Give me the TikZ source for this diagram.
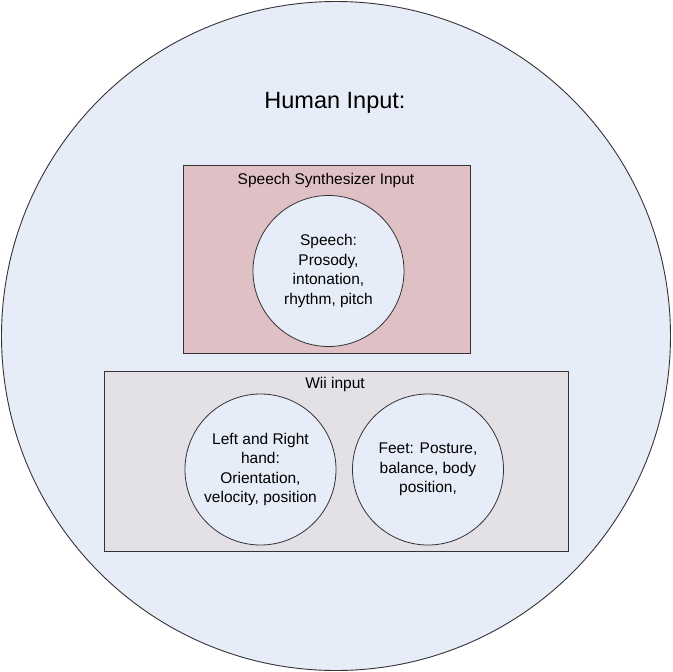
\documentclass[tikz,border=0pt]{standalone}
\usepackage{fontspec}
\setmainfont{Liberation Sans}
\definecolor{bgblue}{HTML}{E7EDF8}
\definecolor{pinkbox}{HTML}{DFC0C5}
\definecolor{graybox}{HTML}{E3E0E6}
\definecolor{edge}{HTML}{333333}
\begin{document}
\begin{tikzpicture}[x=1pt,y=-1pt,
  bubble/.style={circle,draw=edge,line width=0.8pt,fill=bgblue,minimum size=151pt,inner sep=0pt,align=center,font=\fontsize{15.5}{19.5}\selectfont},
  panel/.style={draw=edge,line width=0.8pt},
  lbl/.style={font=\fontsize{15.5}{19}\selectfont}]
\useasboundingbox (0,0) rectangle (672,672);
\node[circle,draw=edge,line width=0.9pt,fill=bgblue,minimum size=669pt,inner sep=0pt] (outer) at (336,336) {};
\node[lbl,font=\fontsize{23.5}{28}\selectfont] (title) at (335,103) {Human Input:};
\node[panel,fill=pinkbox,minimum width=287pt,minimum height=188pt,inner sep=0pt] (speechbox) at (326.5,259) {};
\node[lbl] (speechlbl) at (326,180) {Speech Synthesizer Input};
\node[bubble] (speech) at (328.5,271) {Speech:\\Prosody,\\intonation,\\rhythm, pitch};
\node[panel,fill=graybox,minimum width=464pt,minimum height=180pt,inner sep=0pt] (wiibox) at (336,461) {};
\node[lbl] (wiilbl) at (335,384) {Wii input};
\node[bubble] (hands) at (260.5,469.5) {Left and Right\\hand:\\Orientation,\\velocity, position};
\node[bubble] (feet) at (428,469.5) {Feet: Posture,\\balance, body\\position,};
\end{tikzpicture}
\end{document}
